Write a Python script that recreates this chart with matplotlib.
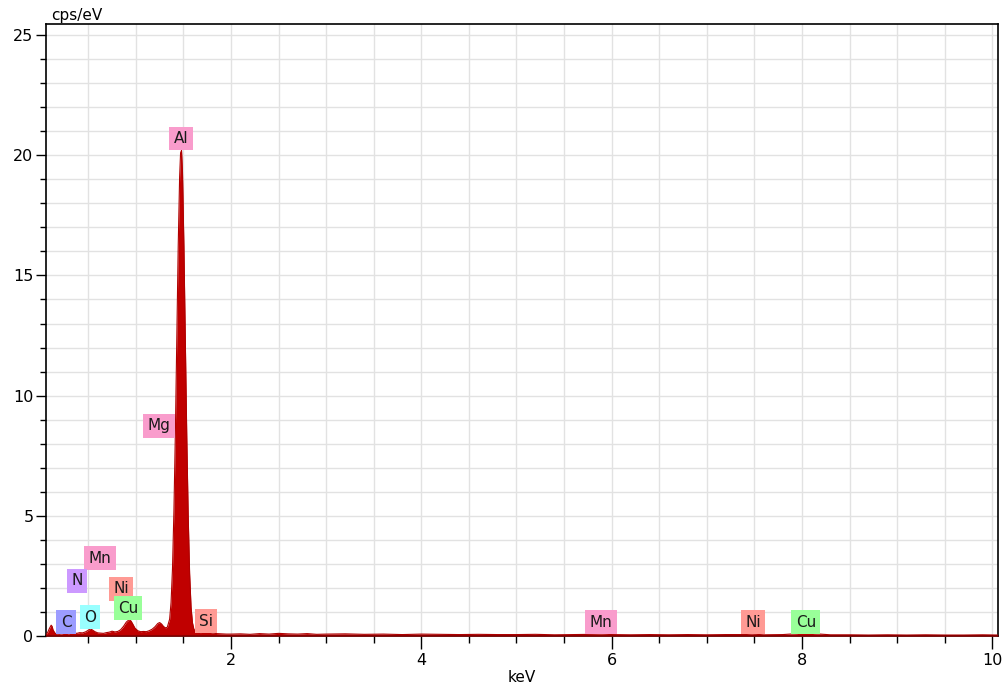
import matplotlib.pyplot as plt
from matplotlib.ticker import MultipleLocator

# spectrum read as (keV, cps/eV) points
energy = [0.05, 0.07, 0.09, 0.11, 0.12, 0.13, 0.15, 0.17, 0.20, 0.23, 0.26, 0.29, 0.32,
          0.35, 0.38, 0.41, 0.44, 0.47, 0.50, 0.52, 0.54, 0.57, 0.60, 0.63, 0.66, 0.69,
          0.72, 0.75, 0.78, 0.81, 0.84, 0.87, 0.90, 0.93, 0.95, 0.97, 0.99, 1.02, 1.05,
          1.08, 1.11, 1.14, 1.17, 1.20, 1.23, 1.25, 1.27, 1.29, 1.31, 1.33, 1.355, 1.37,
          1.385, 1.40, 1.415, 1.43, 1.445, 1.46, 1.47, 1.48, 1.49, 1.505, 1.52, 1.535, 1.55,
          1.565, 1.58, 1.595, 1.61, 1.64, 1.68, 1.71, 1.74, 1.77, 1.80, 1.85, 1.90, 1.95,
          2.00, 2.10, 2.20, 2.30, 2.40, 2.50, 2.60, 2.70, 2.80, 2.90, 3.00, 3.20, 3.40,
          3.60, 3.80, 4.00, 4.20, 4.40, 4.60, 4.80, 5.00, 5.20, 5.40, 5.60, 5.80, 5.90,
          6.00, 6.20, 6.40, 6.60, 6.80, 7.00, 7.20, 7.40, 7.48, 7.60, 7.80, 7.95, 8.04,
          8.12, 8.30, 8.50, 8.70, 8.90, 9.10, 9.30, 9.50, 9.70, 9.90, 10.06]
cps = [0.05, 0.12, 0.30, 0.45, 0.40, 0.25, 0.12, 0.08, 0.07, 0.10, 0.12, 0.09, 0.12,
       0.13, 0.11, 0.14, 0.13, 0.17, 0.24, 0.30, 0.26, 0.18, 0.13, 0.12, 0.11, 0.14,
       0.16, 0.20, 0.17, 0.19, 0.26, 0.40, 0.58, 0.68, 0.62, 0.48, 0.33, 0.22, 0.18,
       0.19, 0.18, 0.22, 0.28, 0.38, 0.52, 0.56, 0.50, 0.40, 0.34, 0.36, 0.70, 1.40,
       2.80, 5.20, 8.40, 12.3, 16.2, 19.1, 20.1, 20.2, 19.3, 16.2, 12.3, 8.3, 5.0,
       2.6, 1.2, 0.55, 0.28, 0.16, 0.14, 0.17, 0.20, 0.16, 0.13, 0.10, 0.09, 0.08,
       0.08, 0.09, 0.07, 0.10, 0.08, 0.11, 0.09, 0.08, 0.10, 0.07, 0.08, 0.09, 0.07,
       0.08, 0.06, 0.08, 0.07, 0.06, 0.07, 0.06, 0.06, 0.07, 0.05, 0.06, 0.07, 0.08,
       0.06, 0.05, 0.06, 0.05, 0.06, 0.05, 0.06, 0.06, 0.08, 0.05, 0.06, 0.10, 0.15,
       0.10, 0.05, 0.05, 0.04, 0.05, 0.04, 0.05, 0.04, 0.04, 0.05, 0.04]

# element markers: name, keV, cps/eV, box colour
tag_names = ['Al', 'Mg', 'Mn', 'N', 'Ni', 'Cu', 'C', 'O', 'Si', 'Mn', 'Ni', 'Cu']
tag_kev = [1.475, 1.245, 0.624, 0.38, 0.844, 0.917, 0.266, 0.518, 1.737, 5.888, 7.485, 8.04]
tag_cps = [20.7, 8.74, 3.24, 2.29, 1.96, 1.16, 0.58, 0.79, 0.62, 0.58, 0.58, 0.58]
tag_colors = ['#f99ccc', '#f99ccc', '#f99ccc', '#cc99ff', '#ff9a94', '#99ff99',
              '#9c9cff', '#99ffff', '#ff9a94', '#f99ccc', '#ff9a94', '#99ff99']

fig = plt.figure(figsize=(10.05, 6.89), dpi=100)
ax = fig.add_axes([0.0458, 0.0769, 0.9472, 0.8883])

ax.fill_between(energy, cps, 0, color='#c00000', lw=0, zorder=3)
ax.plot(energy, cps, color='#b00000', lw=0.8, zorder=3)
ax.axhline(0.02, color='#8b0000', lw=1.5, zorder=3)

for name, x, y, c in zip(tag_names, tag_kev, tag_cps, tag_colors):
    ax.text(x, y, name, ha='center', va='center', fontsize=11, color='#1a1a1a', zorder=5,
            bbox=dict(boxstyle='square,pad=0.28', fc=c, ec='none'))

ax.set_xlim(0.056, 10.06)
ax.set_ylim(0, 25.46)
ax.xaxis.set_major_locator(MultipleLocator(2))
ax.xaxis.set_minor_locator(MultipleLocator(0.5))
ax.yaxis.set_major_locator(MultipleLocator(5))
ax.yaxis.set_minor_locator(MultipleLocator(1))
ax.set_xticks([2, 4, 6, 8, 10])
ax.grid(True, which='both', color='#e2e2e2', lw=1, zorder=0)
ax.set_axisbelow(True)

ax.tick_params(axis='x', which='major', length=9, width=1, labelsize=11.5, pad=3)
ax.tick_params(axis='x', which='minor', length=5, width=1)
ax.tick_params(axis='y', which='major', length=7, width=1, labelsize=11.5, pad=2)
ax.tick_params(axis='y', which='minor', length=4, width=1)
for s in ax.spines.values():
    s.set_linewidth(1.2)

ax.text(0.005, 1.002, 'cps/eV', transform=ax.transAxes, ha='left', va='bottom', fontsize=11)
ax.set_xlabel('keV', fontsize=11, labelpad=2)

fig.savefig('out.png', dpi=100)
